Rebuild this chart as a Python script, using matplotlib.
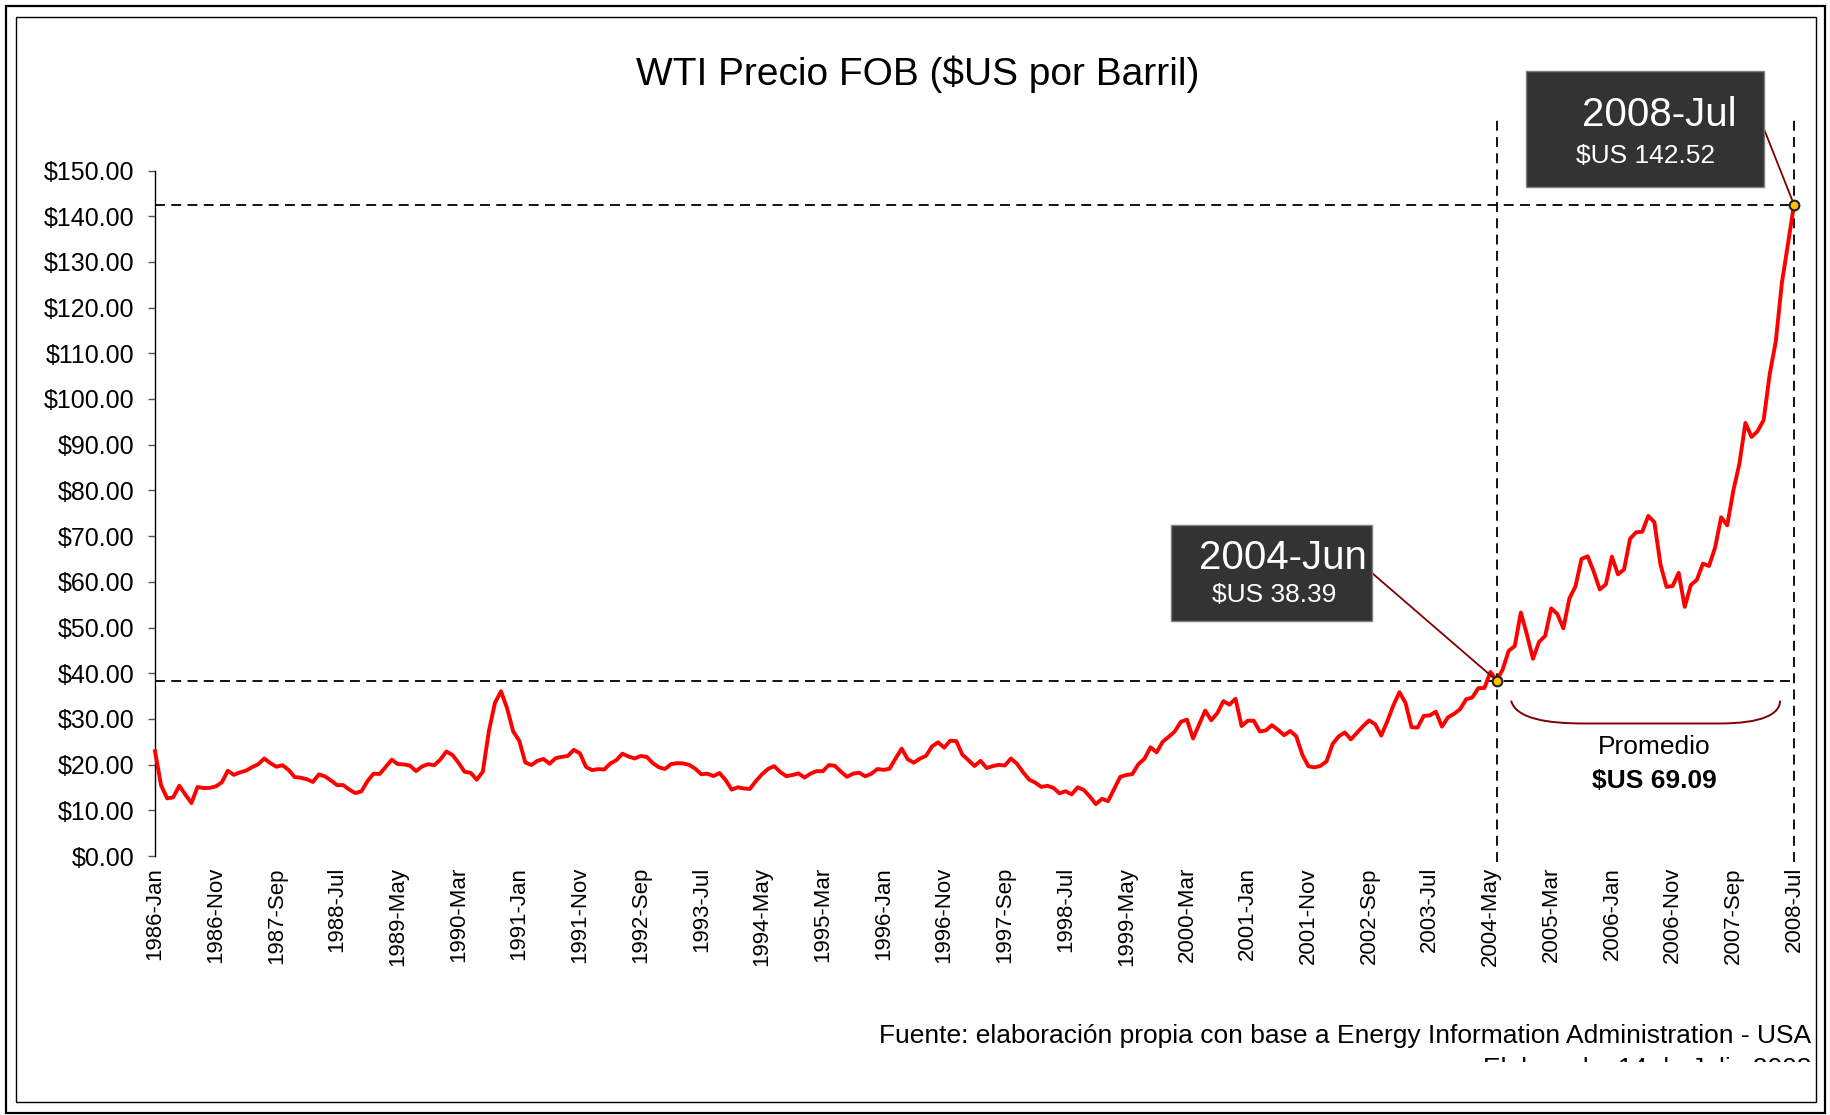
import numpy as np
import pandas as pd
import matplotlib
matplotlib.use("Agg")
import matplotlib.pyplot as plt
from matplotlib.patches import Rectangle, PathPatch
from matplotlib.path import Path
from matplotlib.transforms import Bbox

plt.rcParams['font.family'] = ['Liberation Sans', 'DejaVu Sans']

# WTI monthly price, $US per barrel, 1986-Jan .. 2008-Jul
p1986 = [22.93, 15.46, 12.61, 12.84, 15.38, 13.43, 11.59, 15.10, 14.87, 14.90, 15.22, 16.11]
p1987 = [18.65, 17.75, 18.30, 18.68, 19.44, 20.07, 21.34, 20.31, 19.53, 19.86, 18.85, 17.28]
p1988 = [17.13, 16.80, 16.20, 17.86, 17.42, 16.53, 15.50, 15.52, 14.54, 13.77, 14.14, 16.38]
p1989 = [18.02, 17.94, 19.48, 21.07, 20.12, 20.05, 19.78, 18.58, 19.59, 20.10, 19.86, 21.10]
p1990 = [22.86, 22.11, 20.39, 18.43, 18.20, 16.70, 18.45, 27.31, 33.51, 36.04, 32.33, 27.28]
p1991 = [25.23, 20.48, 19.90, 20.83, 21.23, 20.19, 21.40, 21.69, 21.89, 23.23, 22.46, 19.50]
p1992 = [18.79, 19.01, 18.92, 20.23, 20.98, 22.39, 21.78, 21.34, 21.88, 21.69, 20.34, 19.41]
p1993 = [19.03, 20.09, 20.32, 20.25, 19.95, 19.09, 17.89, 18.01, 17.50, 18.15, 16.61, 14.52]
p1994 = [15.03, 14.78, 14.68, 16.42, 17.89, 19.06, 19.66, 18.38, 17.45, 17.72, 18.07, 17.16]
p1995 = [18.04, 18.57, 18.54, 19.90, 19.74, 18.45, 17.33, 18.02, 18.23, 17.43, 17.99, 19.03]
p1996 = [18.85, 19.09, 21.33, 23.50, 21.17, 20.42, 21.30, 21.90, 23.97, 24.88, 23.71, 25.23]
p1997 = [25.13, 22.18, 20.97, 19.70, 20.82, 19.26, 19.66, 19.95, 19.80, 21.33, 20.19, 18.33]
p1998 = [16.72, 16.06, 15.12, 15.35, 14.91, 13.72, 14.17, 13.47, 15.03, 14.46, 13.00, 11.35]
p1999 = [12.52, 12.01, 14.68, 17.31, 17.72, 17.92, 20.10, 21.28, 23.80, 22.69, 25.00, 26.10]
p2000 = [27.26, 29.37, 29.84, 25.72, 28.79, 31.82, 29.70, 31.26, 33.88, 33.11, 34.42, 28.44]
p2001 = [29.59, 29.61, 27.24, 27.49, 28.63, 27.60, 26.43, 27.37, 26.20, 22.17, 19.64, 19.39]
p2002 = [19.72, 20.72, 24.53, 26.18, 27.04, 25.52, 26.97, 28.39, 29.66, 28.84, 26.35, 29.46]
p2003 = [32.95, 35.83, 33.51, 28.17, 28.11, 30.66, 30.76, 31.57, 28.31, 30.34, 31.11, 32.13]
p2004 = [34.31, 34.69, 36.74, 36.75, 40.28, 38.39, 40.78, 44.90, 45.94, 53.28, 48.47, 43.15]
p2005 = [46.84, 48.15, 54.19, 52.98, 49.83, 56.35, 59.00, 64.99, 65.59, 62.26, 58.32, 59.41]
p2006 = [65.49, 61.63, 62.69, 69.44, 70.84, 70.95, 74.41, 73.04, 63.80, 58.89, 59.08, 61.96]
p2007 = [54.51, 59.28, 60.44, 63.98, 63.46, 67.49, 74.12, 72.36, 79.92, 85.80, 94.77, 91.69]
p2008 = [92.97, 95.39, 105.45, 112.58, 125.40, 133.88, 142.52]

prices = np.array(p1986 + p1987 + p1988 + p1989 + p1990 + p1991 + p1992 + p1993 +
                  p1994 + p1995 + p1996 + p1997 + p1998 + p1999 + p2000 + p2001 +
                  p2002 + p2003 + p2004 + p2005 + p2006 + p2007 + p2008)
months = pd.date_range("1986-01-01", periods=len(prices), freq="MS").strftime("%Y-%b").tolist()

idx_jun04 = months.index("2004-Jun")
idx_jul08 = months.index("2008-Jul")
promedio = "$US 69.09"

W, H = 1831, 1115
fig = plt.figure(figsize=(W / 100, H / 100), dpi=100)


def fx(x):
    return x / W


def fy(y):
    # y measured from top
    return 1 - y / H


# frames
fig.add_artist(Rectangle((fx(6), fy(1113)), fx(1819), 1107 / H, transform=fig.transFigure,
                         fill=False, ec="black", lw=1.6))
fig.add_artist(Rectangle((fx(16), fy(1102)), fx(1800), 1085 / H, transform=fig.transFigure,
                         fill=False, ec="black", lw=1.0))

ax = fig.add_axes([fx(155), fy(856), fx(1794 - 155), (856 - 170.5) / H])
x = np.arange(len(prices))
ax.plot(x, prices, color="#FF0000", lw=2.8, solid_joinstyle="round", zorder=3, clip_on=False)

ax.set_xlim(0, len(prices) - 1)
ax.set_ylim(0, 150)
ax.set_yticks(np.arange(0, 151, 10))
ax.set_yticklabels(["${:.2f}".format(v) for v in np.arange(0, 151, 10)], fontsize=18)
ax.set_xticks(x[::10])
ax.set_xticklabels(months[::10], rotation=90, fontsize=16, va="top")
ax.tick_params(axis="x", length=0, pad=8)
ax.tick_params(axis="y", length=5, width=1, color="#555555", pad=10)
for s in ["top", "right", "bottom"]:
    ax.spines[s].set_visible(False)
ax.spines["left"].set_linewidth(1.0)

# reference lines
dash = dict(color="black", lw=1.3, ls=(0, (5.5, 3.5)), clip_on=False, zorder=2)
ax.plot([0, idx_jul08], [prices[idx_jul08]] * 2, **dash)
ax.plot([0, idx_jul08], [prices[idx_jun04]] * 2, **dash)
ax.plot([idx_jun04, idx_jun04], [-1.3, 161.7], **dash)
ax.plot([idx_jul08, idx_jul08], [-1.3, 161.7], **dash)

# highlighted points
for i in (idx_jun04, idx_jul08):
    ax.plot(i, prices[i], "o", ms=7, mfc="#FFC000", mec="#222222", mew=1.5, zorder=5, clip_on=False)


# annotation boxes
def label_box(x0, y0, x1, y1, big, small, bx, by, sx, sy, idx):
    fig.add_artist(Rectangle((fx(x0), fy(y1)), fx(x1 - x0), (y1 - y0) / H, transform=fig.transFigure,
                             fc="#333333", ec="#7f7f7f", lw=1.0, zorder=6))
    fig.text(fx(bx), fy(by), big, color="white", fontsize=29, ha="center", va="center", zorder=7)
    fig.text(fx(sx), fy(sy), small, color="white", fontsize=19, ha="center", va="center", zorder=7)
    ax.annotate("", xy=(idx, prices[idx]), xycoords="data",
                xytext=(x1, H - (y0 + y1) / 2), textcoords="figure pixels",
                arrowprops=dict(arrowstyle="-", color="#7F0000", lw=1.3, shrinkA=0, shrinkB=2))


label_box(1171, 525, 1372, 621, "2004-Jun", "$US {:.2f}".format(prices[idx_jun04]),
          1283, 558, 1274, 595, idx_jun04)
label_box(1526, 71, 1764, 187, "2008-Jul", "$US {:.2f}".format(prices[idx_jul08]),
          1659, 115, 1646, 156, idx_jul08)

# brace under the 2004-2008 period
bx0, bx1 = idx_jun04 + 2.4, idx_jul08 - 2.3
verts = [(bx0, 34.0), (bx0 + 0.8, 30.0), (bx0 + 6, 29.0), (bx0 + 12, 29.0),
         (bx1 - 10, 29.0), (bx1 - 3, 29.0), (bx1, 31.0), (bx1, 34.0)]
codes = [Path.MOVETO, Path.CURVE4, Path.CURVE4, Path.CURVE4,
         Path.LINETO, Path.CURVE4, Path.CURVE4, Path.CURVE4]
ax.add_patch(PathPatch(Path(verts, codes), fill=False, ec="#7F0000", lw=1.4, clip_on=False))
fig.text(fx(1654), fy(747), "Promedio", fontsize=19, ha="center", va="center")
fig.text(fx(1654), fy(781), promedio, fontsize=19, fontweight="bold", ha="center", va="center")

# title and footer
fig.text(fx(918), fy(74), "WTI Precio FOB ($US por Barril)", fontsize=28, ha="center", va="center")
fig.text(fx(1811), fy(1036), "Fuente: elaboración propia con base a Energy Information Administration - USA",
         fontsize=19, ha="right", va="center")
t = fig.text(fx(1811), fy(1069), "Elaborado: 14 de Julio 2008", fontsize=19, ha="right", va="center")
t.set_clip_box(Bbox.from_extents(0, H - 1062, W, H))
t.set_clip_on(True)

fig.savefig("out.png", dpi=100)
